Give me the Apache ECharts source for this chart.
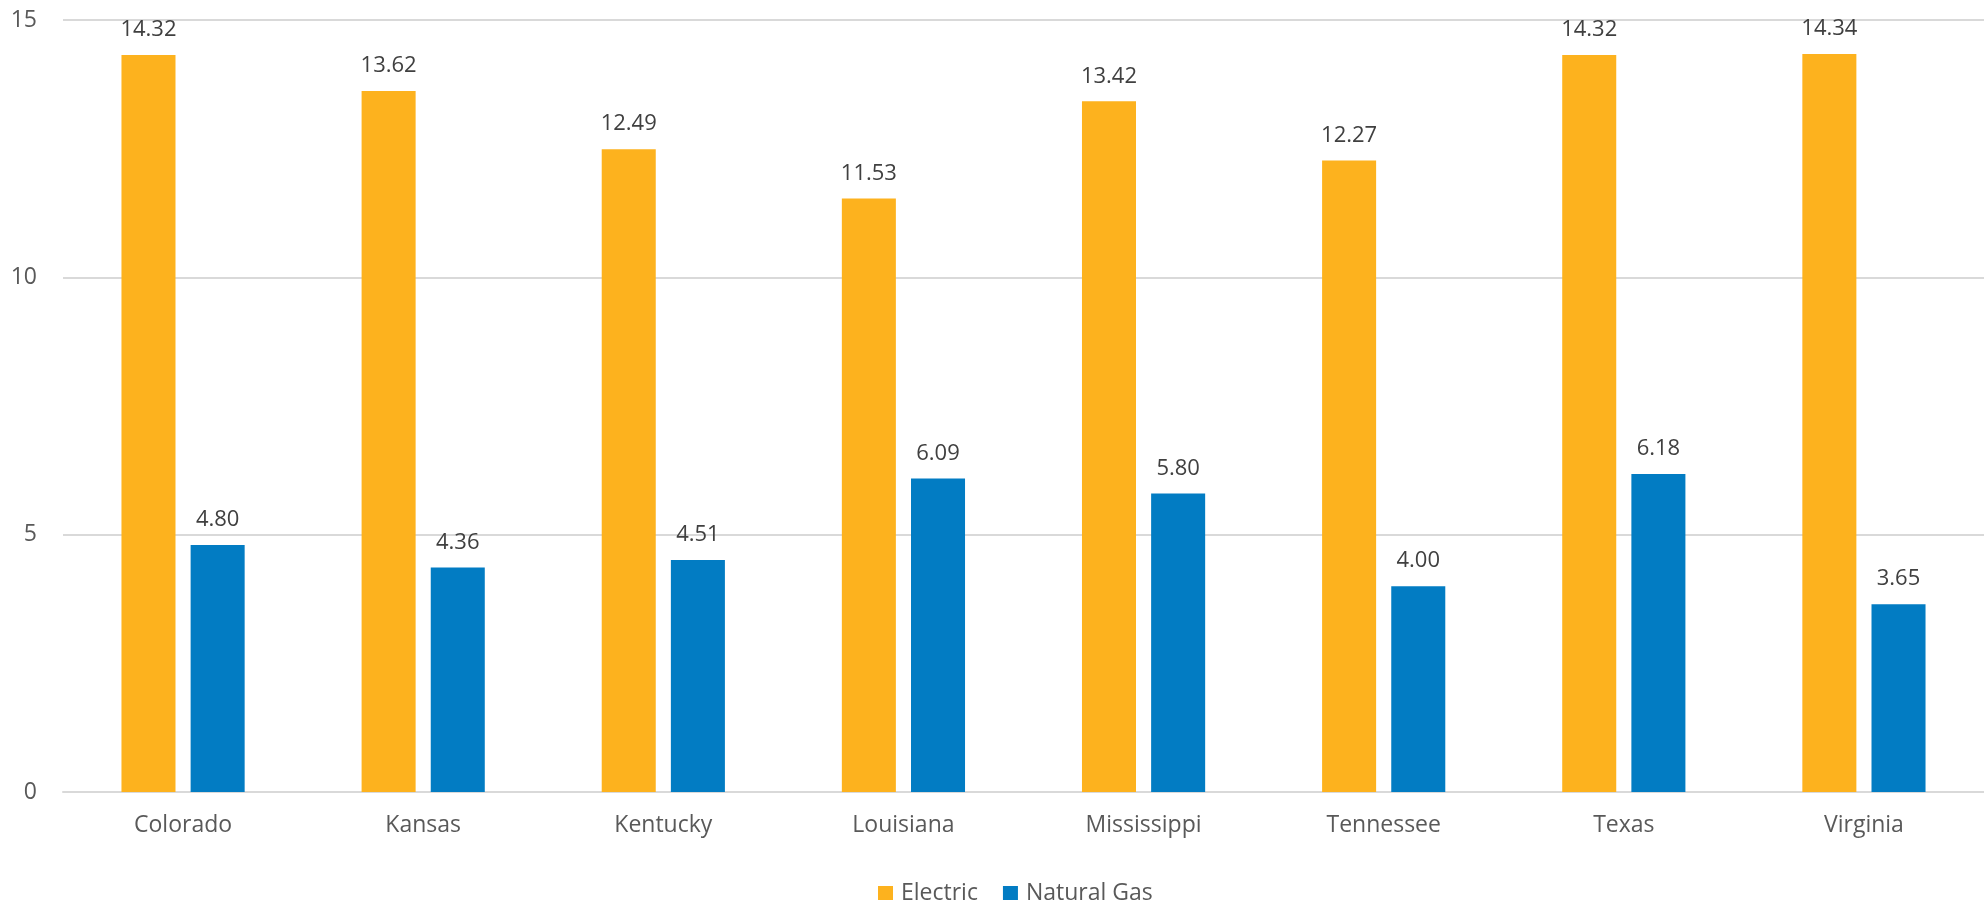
<!DOCTYPE html>
<html>
<head>
<meta charset="utf-8">
<script src="https://cdn.jsdelivr.net/npm/echarts@6/dist/echarts.min.js"></script>
<style>html,body{margin:0;padding:0;background:#fff;}#c{width:1984px;height:900px;}</style>
</head>
<body>
<div id="c"></div>
<script>
const categories = ['Colorado','Kansas','Kentucky','Louisiana','Mississippi','Tennessee','Texas','Virginia'];
const electric = [14.32,13.62,12.49,11.53,13.42,12.27,14.32,14.34];
const naturalGas = [4.80,4.36,4.51,6.09,5.80,4.00,6.18,3.65];
const yTicks = [0,5,10,15];

const chart = echarts.init(document.getElementById('c'));
const font = '"Open Sans", sans-serif';
const lbl = {show:true, position:'top', distance:14, color:'#404040', fontSize:22, fontFamily:font, formatter:p=>p.value.toFixed(2)};
chart.setOption({
  animation:false,
  textStyle:{fontFamily:font},
  grid:{left:63, right:0, top:20, bottom:108, containLabel:false},
  legend:{
    top:877, left:873, itemWidth:15, itemHeight:15, itemGap:25,
    icon:'rect',
    textStyle:{color:'#595959', fontSize:23, fontFamily:font, padding:[0,0,0,3]},
    data:['Electric','Natural Gas']
  },
  xAxis:{
    type:'category', data:categories,
    axisLine:{lineStyle:{color:'#D9D9D9', width:2}},
    axisTick:{show:false},
    axisLabel:{color:'#595959', fontSize:23, fontFamily:font, margin:22}
  },
  yAxis:{
    type:'value', min:yTicks[0], max:yTicks[yTicks.length-1], interval:5,
    axisLine:{show:false}, axisTick:{show:false},
    axisLabel:{color:'#595959', fontSize:23, fontFamily:font, margin:26},
    splitLine:{lineStyle:{color:'#D9D9D9', width:2}}
  },
  series:[
    {name:'Electric', type:'bar', data:electric, barWidth:'22.5%', barGap:'28%', itemStyle:{color:'#FDB21E'}, label:lbl},
    {name:'Natural Gas', type:'bar', data:naturalGas, barWidth:'22.5%', barGap:'28%', itemStyle:{color:'#027CC3'}, label:lbl}
  ]
});
</script>
</body>
</html>
